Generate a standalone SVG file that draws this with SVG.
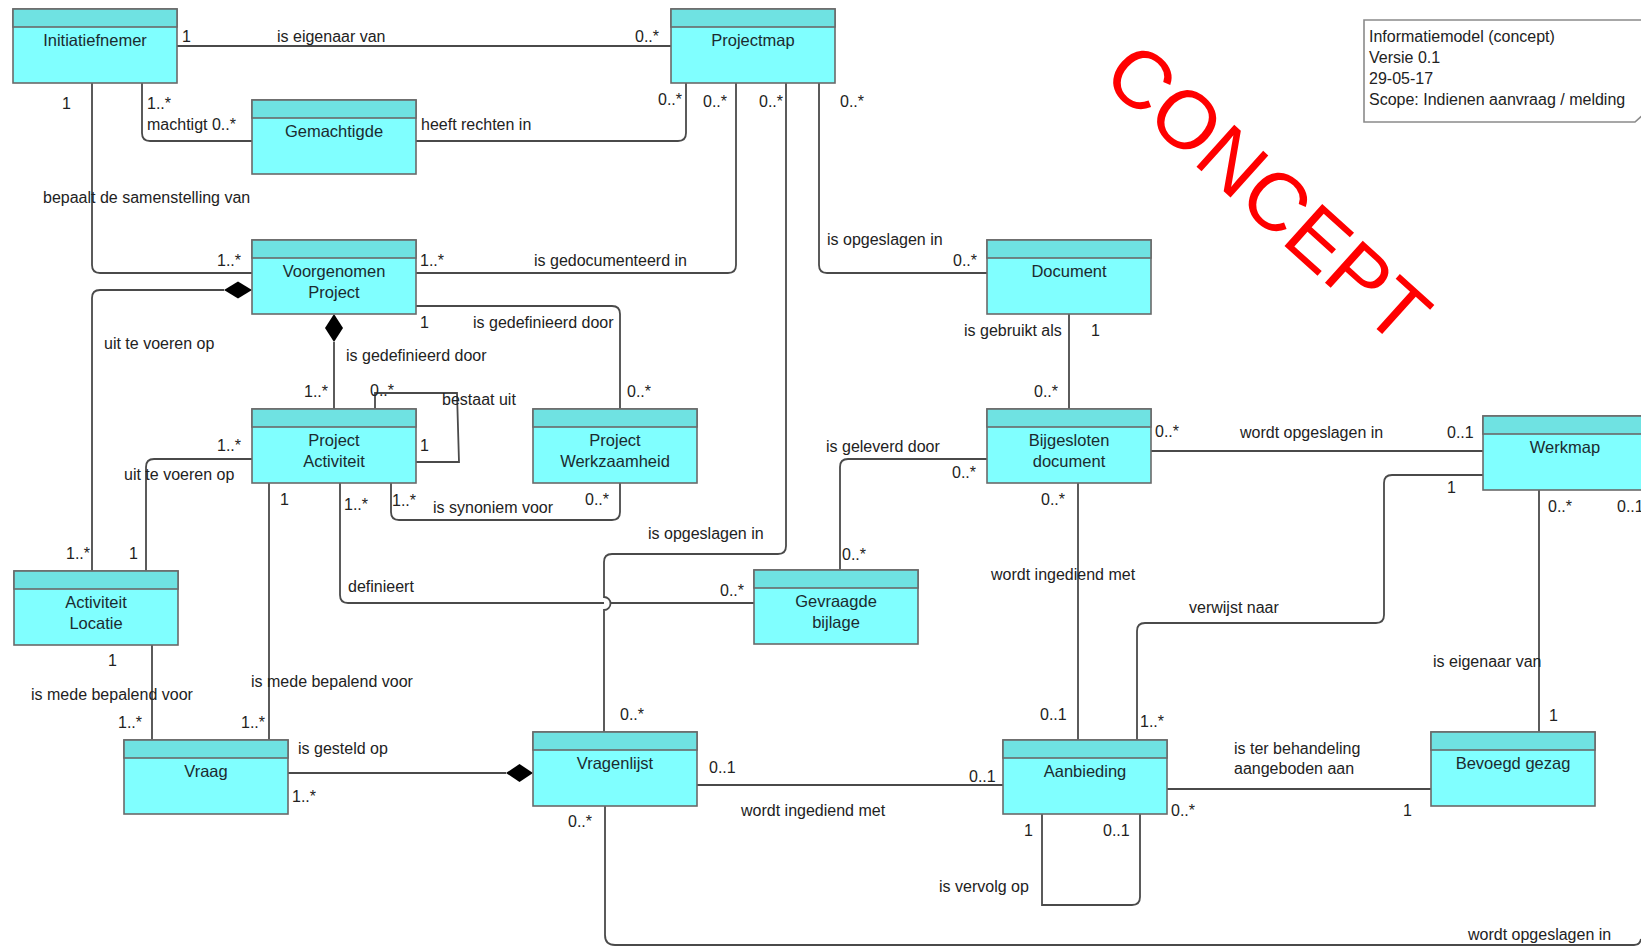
<svg xmlns="http://www.w3.org/2000/svg" width="1641" height="947" viewBox="0 0 1641 947">
<style>
.body{fill:#80ffff;stroke:#6a6a6a;stroke-width:1.6}
.hdr{fill:#6fe2e2;stroke:#6a6a6a;stroke-width:1.6}
.nm{font-family:"Liberation Sans",Arial,sans-serif;font-size:16.5px;fill:#1b2b30;text-anchor:middle}
.l{font-family:"Liberation Sans",Arial,sans-serif;font-size:16px;fill:#222}
.c{fill:none;stroke:#4a4a4a;stroke-width:1.8}
.dia{fill:#000}
.note{fill:#fff;stroke:#8a8a8a;stroke-width:1.6}
.wm{font-family:"Liberation Sans",Arial,sans-serif;font-size:82px;fill:#ff0000}
</style>
<rect width="1641" height="947" fill="#fff"/>

<g id="connectors">
<path class="c" d="M177,46 H671"/>
<path class="c" d="M142,83 V133 Q142,141 150,141 H252"/>
<path class="c" d="M416,141 H678 Q686,141 686,133 V83"/>
<path class="c" d="M92,83 V265 Q92,273 100,273 H252"/>
<path class="c" d="M416,273 H728 Q736,273 736,265 V83"/>
<path class="c" d="M786,83 V546 Q786,554 778,554 H612 Q604,554 604,562 V597 A6.5,6.5 0 0 1 604,610 V732"/>
<path class="c" d="M819,83 V265 Q819,273 827,273 H987"/>
<path class="c" d="M224,290 H100 Q92,290 92,298 V571"/>
<polygon class="dia" points="252,290 238,281.5 224,290 238,298.5"/>
<path class="c" d="M334,342 V409"/>
<polygon class="dia" points="334,314 343,328 334,342 325,328"/>
<path class="c" d="M416,306 H612 Q620,306 620,314 V409"/>
<path class="c" d="M375,409 V393 H457 L459,462 H416"/>
<path class="c" d="M391,483 V512 Q391,520 399,520 H612 Q620,520 620,512 V483"/>
<path class="c" d="M252,459 H154 Q146,459 146,467 V571"/>
<path class="c" d="M269,483 V740"/>
<path class="c" d="M340,483 V595 Q340,603 348,603 H604 M610.5,603 H754"/>
<path class="c" d="M152,645 V740"/>
<path class="c" d="M288,773 H506"/>
<polygon class="dia" points="533,773 519.5,764 506,773 519.5,782"/>
<path class="c" d="M697,785 H1003"/>
<path class="c" d="M605,806 V935 Q605,945 615,945 H1634 Q1640,945 1641,939"/>
<path class="c" d="M1069,314 V409"/>
<path class="c" d="M1150,451 H1483"/>
<path class="c" d="M987,459 H848 Q840,459 840,467 V570"/>
<path class="c" d="M1078,483 V740"/>
<path class="c" d="M1137,740 V631 Q1137,623 1145,623 H1376 Q1384,623 1384,615 V483 Q1384,475 1392,475 H1483"/>
<path class="c" d="M1539,490 V732"/>
<path class="c" d="M1167,789 H1431"/>
<path class="c" d="M1042,814 V905 H1132 Q1140,905 1140,897 V814"/>
</g>

<g id="n-initiatiefnemer" transform="translate(13,9)"><rect class="body" width="164" height="74"/><rect class="hdr" width="164" height="18"/><text class="nm" x="82" y="37">Initiatiefnemer</text></g>
<g id="n-projectmap" transform="translate(671,9)"><rect class="body" width="164" height="74"/><rect class="hdr" width="164" height="18"/><text class="nm" x="82" y="37">Projectmap</text></g>
<g id="n-gemachtigde" transform="translate(252,100)"><rect class="body" width="164" height="74"/><rect class="hdr" width="164" height="18"/><text class="nm" x="82" y="37">Gemachtigde</text></g>
<g id="n-voorgenomen" transform="translate(252,240)"><rect class="body" width="164" height="74"/><rect class="hdr" width="164" height="18"/><text class="nm" x="82" y="37">Voorgenomen</text><text class="nm" x="82" y="57.5">Project</text></g>
<g id="n-document" transform="translate(987,240)"><rect class="body" width="164" height="74"/><rect class="hdr" width="164" height="18"/><text class="nm" x="82" y="37">Document</text></g>
<g id="n-projectactiviteit" transform="translate(252,409)"><rect class="body" width="164" height="74"/><rect class="hdr" width="164" height="18"/><text class="nm" x="82" y="37">Project</text><text class="nm" x="82" y="57.5">Activiteit</text></g>
<g id="n-projectwerkzaamheid" transform="translate(533,409)"><rect class="body" width="164" height="74"/><rect class="hdr" width="164" height="18"/><text class="nm" x="82" y="37">Project</text><text class="nm" x="82" y="57.5">Werkzaamheid</text></g>
<g id="n-bijgesloten" transform="translate(987,409)"><rect class="body" width="164" height="74"/><rect class="hdr" width="164" height="18"/><text class="nm" x="82" y="37">Bijgesloten</text><text class="nm" x="82" y="57.5">document</text></g>
<g id="n-werkmap" transform="translate(1483,416)"><rect class="body" width="170" height="74"/><rect class="hdr" width="170" height="18"/><text class="nm" x="82" y="37">Werkmap</text></g>
<g id="n-activiteitlocatie" transform="translate(14,571)"><rect class="body" width="164" height="74"/><rect class="hdr" width="164" height="18"/><text class="nm" x="82" y="37">Activiteit</text><text class="nm" x="82" y="57.5">Locatie</text></g>
<g id="n-gevraagdebijlage" transform="translate(754,570)"><rect class="body" width="164" height="74"/><rect class="hdr" width="164" height="18"/><text class="nm" x="82" y="37">Gevraagde</text><text class="nm" x="82" y="57.5">bijlage</text></g>
<g id="n-vraag" transform="translate(124,740)"><rect class="body" width="164" height="74"/><rect class="hdr" width="164" height="18"/><text class="nm" x="82" y="37">Vraag</text></g>
<g id="n-vragenlijst" transform="translate(533,732)"><rect class="body" width="164" height="74"/><rect class="hdr" width="164" height="18"/><text class="nm" x="82" y="37">Vragenlijst</text></g>
<g id="n-aanbieding" transform="translate(1003,740)"><rect class="body" width="164" height="74"/><rect class="hdr" width="164" height="18"/><text class="nm" x="82" y="37">Aanbieding</text></g>
<g id="n-bevoegdgezag" transform="translate(1431,732)"><rect class="body" width="164" height="74"/><rect class="hdr" width="164" height="18"/><text class="nm" x="82" y="37">Bevoegd gezag</text></g>

<g id="n-note">
<path class="note" d="M1364,20 H1645 V113 L1635,122 H1364 Z"/>
<text class="l" x="1369" y="42">Informatiemodel (concept)</text>
<text class="l" x="1369" y="63">Versie 0.1</text>
<text class="l" x="1369" y="84">29-05-17</text>
<text class="l" x="1369" y="105">Scope: Indienen aanvraag / melding</text>
</g>

<g id="labels">
<text class="l" x="182" y="42">1</text>
<text class="l" x="277" y="42">is eigenaar van</text>
<text class="l" x="635" y="42">0..*</text>
<text class="l" x="62" y="109">1</text>
<text class="l" x="147" y="109">1..*</text>
<text class="l" x="147" y="130">machtigt 0..*</text>
<text class="l" x="421" y="130">heeft rechten in</text>
<text class="l" x="658" y="105">0..*</text>
<text class="l" x="703" y="107">0..*</text>
<text class="l" x="759" y="107">0..*</text>
<text class="l" x="840" y="107">0..*</text>
<text class="l" x="43" y="203">bepaalt de samenstelling van</text>
<text class="l" x="217" y="266">1..*</text>
<text class="l" x="420" y="266">1..*</text>
<text class="l" x="534" y="266">is gedocumenteerd in</text>
<text class="l" x="827" y="245">is opgeslagen in</text>
<text class="l" x="953" y="266">0..*</text>
<text class="l" x="104" y="349">uit te voeren op</text>
<text class="l" x="420" y="328">1</text>
<text class="l" x="473" y="328">is gedefinieerd door</text>
<text class="l" x="346" y="361">is gedefinieerd door</text>
<text class="l" x="964" y="336">is gebruikt als</text>
<text class="l" x="1091" y="336">1</text>
<text class="l" x="304" y="397">1..*</text>
<text class="l" x="370" y="396">0..*</text>
<text class="l" x="442" y="405">bestaat uit</text>
<text class="l" x="627" y="397">0..*</text>
<text class="l" x="1034" y="397">0..*</text>
<text class="l" x="217" y="451">1..*</text>
<text class="l" x="420" y="451">1</text>
<text class="l" x="124" y="480">uit te voeren op</text>
<text class="l" x="826" y="452">is geleverd door</text>
<text class="l" x="952" y="478">0..*</text>
<text class="l" x="1155" y="437">0..*</text>
<text class="l" x="1240" y="438">wordt opgeslagen in</text>
<text class="l" x="1447" y="438">0..1</text>
<text class="l" x="1447" y="493">1</text>
<text class="l" x="280" y="505">1</text>
<text class="l" x="344" y="510">1..*</text>
<text class="l" x="392" y="506">1..*</text>
<text class="l" x="433" y="513">is synoniem voor</text>
<text class="l" x="585" y="505">0..*</text>
<text class="l" x="1041" y="505">0..*</text>
<text class="l" x="1548" y="512">0..*</text>
<text class="l" x="1617" y="512">0..1</text>
<text class="l" x="648" y="539">is opgeslagen in</text>
<text class="l" x="66" y="559">1..*</text>
<text class="l" x="129" y="559">1</text>
<text class="l" x="842" y="560">0..*</text>
<text class="l" x="991" y="580">wordt ingediend met</text>
<text class="l" x="348" y="592">definieert</text>
<text class="l" x="720" y="596">0..*</text>
<text class="l" x="1189" y="613">verwijst naar</text>
<text class="l" x="108" y="666">1</text>
<text class="l" x="1433" y="667">is eigenaar van</text>
<text class="l" x="251" y="687">is mede bepalend voor</text>
<text class="l" x="31" y="700">is mede bepalend voor</text>
<text class="l" x="118" y="728">1..*</text>
<text class="l" x="241" y="728">1..*</text>
<text class="l" x="620" y="720">0..*</text>
<text class="l" x="1040" y="720">0..1</text>
<text class="l" x="1140" y="727">1..*</text>
<text class="l" x="1549" y="721">1</text>
<text class="l" x="298" y="754">is gesteld op</text>
<text class="l" x="1234" y="754">is ter behandeling</text>
<text class="l" x="1234" y="774">aangeboden aan</text>
<text class="l" x="709" y="773">0..1</text>
<text class="l" x="969" y="782">0..1</text>
<text class="l" x="292" y="802">1..*</text>
<text class="l" x="741" y="816">wordt ingediend met</text>
<text class="l" x="1171" y="816">0..*</text>
<text class="l" x="1403" y="816">1</text>
<text class="l" x="568" y="827">0..*</text>
<text class="l" x="1024" y="836">1</text>
<text class="l" x="1103" y="836">0..1</text>
<text class="l" x="939" y="892">is vervolg op</text>
<text class="l" x="1468" y="940">wordt opgeslagen in</text>
</g>

<text class="wm" transform="translate(1100,80) rotate(42)">CONCEPT</text>
</svg>
